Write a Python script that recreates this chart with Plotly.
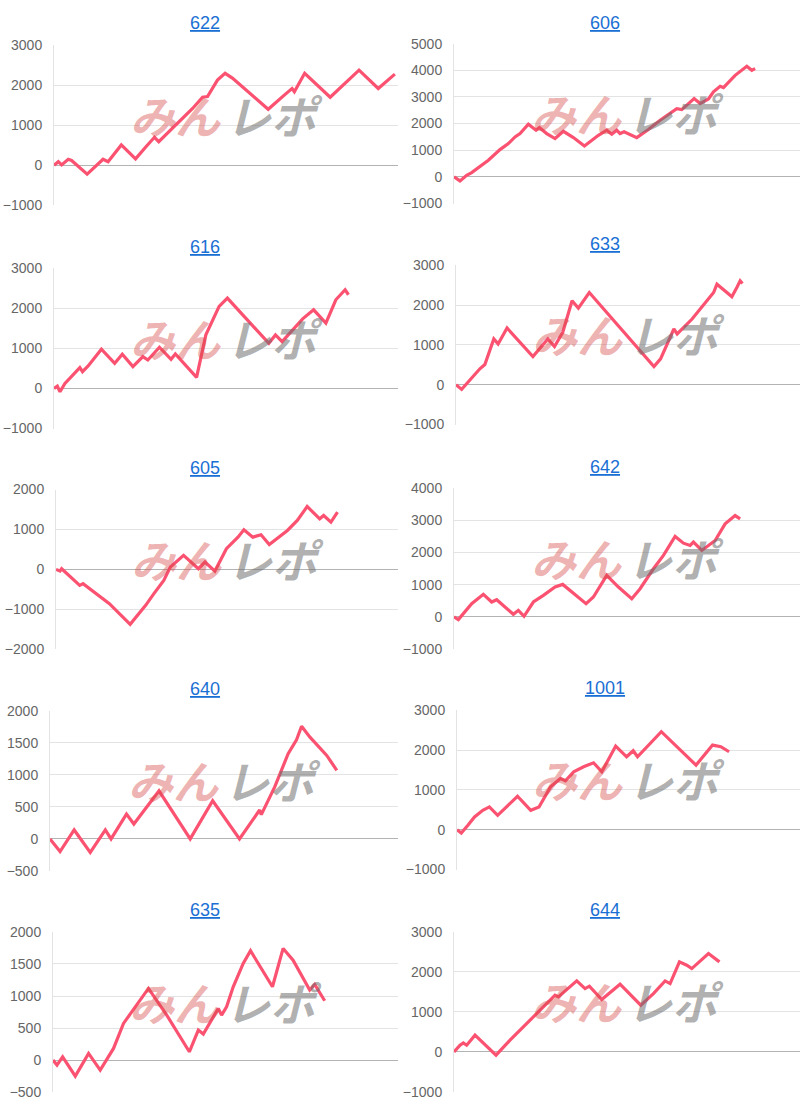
import plotly.graph_objects as go

W, H = 800, 1110

titles = ["622", "606", "616", "633", "605", "642", "640", "1001", "635", "644"]

# games (x) and差枚 (y) per machine
g622 = [0, 104, 184, 344, 424, 800, 1184, 1304, 1624, 1968, 2224, 2424, 2528, 2944, 3344, 3584, 3704, 3944, 4128, 4304, 5168, 5584, 5744, 5800, 6048, 6664, 7360, 7824, 8224]
d622 = [0, 90, 10, 150, 120, -220, 150, 90, 510, 160, 470, 700, 590, 1010, 1420, 1700, 1720, 2130, 2300, 2180, 1400, 1780, 1920, 1840, 2300, 1700, 2380, 1920, 2280]

g606 = [0, 144, 304, 424, 824, 1024, 1104, 1304, 1464, 1584, 1784, 1968, 2048, 2224, 2424, 2624, 2864, 3128, 3464, 3664, 3784, 3904, 3984, 4080, 4384, 4664, 4944, 5344, 5464, 5760, 5904, 6104, 6224, 6384, 6464, 6744, 7024, 7144, 7224]
d606 = [0, -150, 60, 160, 625, 940, 1025, 1250, 1500, 1625, 1975, 1750, 1850, 1625, 1440, 1710, 1475, 1160, 1560, 1750, 1600, 1750, 1625, 1690, 1475, 1775, 2125, 2560, 2525, 2940, 2750, 2925, 3190, 3400, 3350, 3810, 4150, 4000, 4060]

g616 = [0, 80, 144, 264, 624, 688, 824, 1144, 1464, 1648, 1904, 2144, 2264, 2544, 2824, 2928, 3440, 3664, 3984, 4184, 4664, 5184, 5344, 5504, 6000, 6264, 6560, 6800, 7024, 7104]
d616 = [0, 58, -83, 125, 517, 417, 558, 975, 625, 850, 542, 792, 708, 1025, 725, 858, 275, 1333, 2042, 2250, 1708, 1125, 1333, 1167, 1733, 1958, 1625, 2208, 2458, 2333]

g633 = [0, 136, 256, 576, 696, 912, 1016, 1232, 1856, 2216, 2376, 2576, 2800, 2952, 3216, 4776, 4936, 5256, 5336, 5696, 6216, 6296, 6536, 6656, 6776, 6856, 6912]
d633 = [0, -117, 25, 400, 508, 1150, 1025, 1425, 708, 1150, 958, 1317, 2108, 1925, 2317, 458, 650, 1400, 1275, 1650, 2317, 2525, 2317, 2208, 2442, 2608, 2542]

g605 = [0, 96, 136, 576, 656, 1296, 1800, 2176, 2376, 2616, 2776, 3096, 3456, 3616, 3856, 4136, 4416, 4560, 4776, 4976, 5176, 5616, 5856, 6096, 6400, 6496, 6672, 6832]
d605 = [0, -42, 17, -400, -358, -858, -1375, -900, -608, -275, 58, 350, 17, 183, -42, 517, 808, 992, 808, 867, 625, 975, 1225, 1575, 1267, 1350, 1183, 1433]

g642 = [0, 104, 424, 704, 904, 1024, 1424, 1544, 1680, 1904, 2144, 2424, 2608, 2864, 3168, 3344, 3664, 3944, 4264, 4464, 4784, 5024, 5304, 5504, 5664, 5744, 5944, 6264, 6504, 6744, 6864]
d642 = [0, -82, 412, 701, 464, 536, 82, 206, 21, 464, 670, 928, 1010, 722, 412, 619, 1289, 928, 567, 876, 1495, 1907, 2495, 2289, 2216, 2320, 2062, 2371, 2887, 3144, 3041]

g640 = [0, 240, 576, 960, 1320, 1456, 1824, 2000, 2600, 3344, 3880, 4520, 5000, 5040, 5360, 5680, 5880, 6000, 6200, 6600, 6840]
d640 = [0, -197, 140, -212, 140, 0, 388, 233, 751, 0, 596, 0, 451, 380, 813, 1331, 1549, 1761, 1590, 1305, 1072]

g1001 = [0, 104, 264, 424, 624, 784, 984, 1464, 1784, 1984, 2264, 2504, 2624, 2824, 3064, 3304, 3504, 3840, 4104, 4264, 4368, 4944, 5784, 6184, 6384, 6584]
d1001 = [0, -84, 109, 319, 487, 571, 361, 840, 487, 571, 1075, 1285, 1226, 1453, 1579, 1680, 1453, 2100, 1831, 1982, 1831, 2461, 1621, 2125, 2083, 1957]

g635 = [0, 96, 232, 536, 856, 1136, 1456, 1696, 2296, 2736, 3280, 3496, 3616, 3976, 4056, 4176, 4336, 4576, 4752, 5280, 5536, 5776, 6176, 6296, 6536]
d635 = [0, -78, 52, -250, 104, -156, 182, 572, 1118, 702, 130, 468, 406, 806, 702, 832, 1144, 1508, 1706, 1144, 1742, 1560, 1092, 1180, 926]

g644 = [0, 144, 224, 304, 504, 1008, 1344, 1864, 1984, 2224, 2424, 2504, 2704, 2944, 3144, 3248, 3544, 3984, 4480, 4784, 5064, 5184, 5408, 5584, 5704, 6104, 6368]
d644 = [0, 167, 225, 167, 417, -83, 292, 833, 958, 1192, 1417, 1375, 1558, 1775, 1583, 1642, 1308, 1692, 1167, 1458, 1775, 1708, 2250, 2167, 2083, 2458, 2250]

games = [g622, g606, g616, g633, g605, g642, g640, g1001, g635, g644]
diffs = [d622, d606, d616, d633, d605, d642, d640, d1001, d635, d644]
yranges = [(-1000, 3000), (-1000, 5000), (-1000, 3000), (-1000, 3000), (-2000, 2000),
           (-1000, 4000), (-500, 2000), (-1000, 3000), (-500, 2000), (-1000, 3000)]
ydticks = [1000, 1000, 1000, 1000, 1000, 1000, 500, 1000, 500, 1000]
xmax = 8300

# panel placement (target px on screen)
xleft = [54, 454, 54, 456, 56, 454, 50, 457, 53, 454]
xright = [398, 800] * 5
ytop = [45, 43.3, 267.7, 265, 489.3, 487.7, 710.7, 710, 931.7, 931.7]
ybot = [205, 203.3, 428.3, 424.3, 649, 649, 870.7, 869.3, 1092, 1091.7]
title_y = [23, 23, 246.7, 243.5, 467.7, 466.7, 689, 688, 910, 910]
title_x = [205, 605] * 5


def py(v):
    # vertical screen px -> paper fraction (compensates the capture's vertical fit)
    return 1 - ((v - 7.7) / 0.9857) / H


LINE = "rgb(250,82,112)"
FONT = "Liberation Sans, Arial, sans-serif"

fig = go.Figure()
layout = dict(
    width=W, height=H, margin=dict(l=0, r=0, t=0, b=0),
    paper_bgcolor="white", plot_bgcolor="white", showlegend=False,
    font=dict(family=FONT, size=14, color="#6b6b6b"),
)
annotations = []
for i in range(10):
    k = "" if i == 0 else str(i + 1)
    fig.add_trace(go.Scatter(
        x=games[i], y=diffs[i], mode="lines",
        line=dict(color=LINE, width=3.2), xaxis="x" + k, yaxis="y" + k,
        hoverinfo="skip"))
    layout["xaxis" + k] = dict(
        domain=[xleft[i] / W, xright[i] / W], range=[0, xmax],
        showgrid=False, zeroline=False, showticklabels=False, showline=False,
        anchor="y" + k, fixedrange=True)
    layout["yaxis" + k] = dict(
        domain=[py(ybot[i]), py(ytop[i])], range=list(yranges[i]),
        dtick=ydticks[i], tick0=0, showgrid=True, gridcolor="#e3e3e3", gridwidth=1,
        zeroline=True, zerolinecolor="#b3b3b3", zerolinewidth=1,
        showline=True, linecolor="#e3e3e3", linewidth=1,
        ticks="", ticklabelstandoff=8, anchor="x" + k,
        tickfont=dict(family=FONT, size=14, color="#666666"), fixedrange=True)
    # title
    annotations.append(dict(
        text="<u>" + titles[i] + "</u>", xref="paper", yref="paper",
        x=title_x[i] / W, y=py(title_y[i]), xanchor="center", yanchor="middle",
        showarrow=False, font=dict(family=FONT, size=18, color="#1a6fd4")))
    # watermark
    annotations.append(dict(
        text="<b><i>みん</i></b>", xref="x" + k + " domain", yref="y" + k + " domain",
        x=0.5, y=0.5, xshift=-51, yshift=11, xanchor="center", yanchor="middle",
        showarrow=False,
        font=dict(family="Noto Sans CJK JP", size=45, color="rgba(214,72,72,0.42)")))
    annotations.append(dict(
        text="<b><i>レポ</i></b>", xref="x" + k + " domain", yref="y" + k + " domain",
        x=0.5, y=0.5, xshift=48, yshift=11, xanchor="center", yanchor="middle",
        showarrow=False,
        font=dict(family="Noto Sans CJK JP", size=45, color="rgba(110,110,110,0.55)")))

layout["annotations"] = annotations
fig.update_layout(**layout)
fig.write_html("out.html", config={"displayModeBar": False},
               post_script="document.body.style.margin='0';document.body.style.overflow='hidden';")
